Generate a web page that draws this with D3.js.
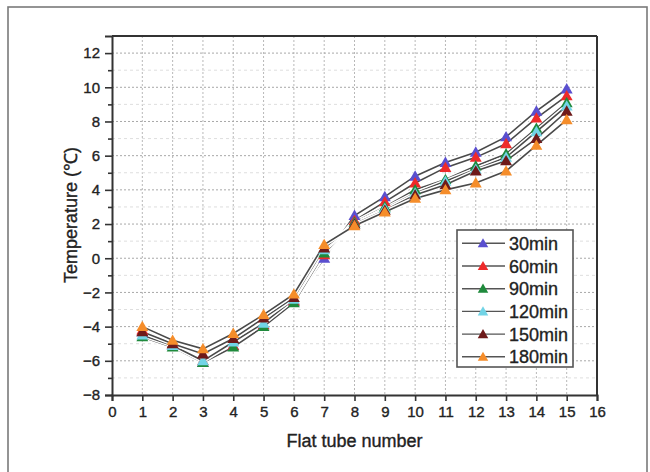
<!DOCTYPE html>
<html>
<head>
<meta charset="utf-8">
<script src="https://cdn.jsdelivr.net/npm/d3@7"></script>
<style>
  html, body { margin: 0; padding: 0; background: #fff; }
  svg { display: block; font-family: "Liberation Sans", Arial, sans-serif; }
  svg text { stroke: #222; stroke-width: 0.35px; }
</style>
</head>
<body>
<svg id="chart" width="650" height="472"></svg>
<script>
const tubes = [1, 2, 3, 4, 5, 6, 7, 8, 9, 10, 11, 12, 13, 14, 15];
const seriesNames = ["30min", "60min", "90min", "120min", "150min", "180min"];
const s30  = [-4.3, -5.1, -6.1, -5.1, -3.9, -2.5, 0.0, 2.5, 3.6, 4.8, 5.6, 6.2, 7.1, 8.6, 9.9];
const s60  = [-4.2, -5.0, -6.0, -5.1, -3.9, -2.5, 0.2, 2.2, 3.3, 4.4, 5.3, 5.9, 6.7, 8.2, 9.5];
const s90  = [-4.6, -5.2, -6.1, -5.2, -4.0, -2.6, 0.3, 2.1, 3.0, 4.0, 4.6, 5.4, 6.1, 7.6, 9.1];
const s120 = [-4.5, -5.1, -6.0, -4.9, -3.8, -2.4, 0.5, 2.0, 2.9, 3.8, 4.5, 5.2, 5.9, 7.4, 8.9];
const s150 = [-4.3, -5.0, -5.6, -4.7, -3.5, -2.3, 0.6, 2.0, 2.8, 3.7, 4.3, 5.1, 5.7, 7.0, 8.6];
const s180 = [-4.0, -4.8, -5.3, -4.4, -3.3, -2.1, 0.8, 1.9, 2.7, 3.5, 4.0, 4.4, 5.1, 6.6, 8.1];
const seriesValues = [s30, s60, s90, s120, s150, s180];
const seriesColors = ["#5a4fcf", "#ee2a2a", "#1f8a3c", "#72d4e6", "#6e1a1a", "#f58d2a"];
const xTicks = d3.range(0, 17, 1);
const yTicks = [-8, -6, -4, -2, 0, 2, 4, 6, 8, 10, 12];
const yMinorTicks = d3.range(-7, 13, 2);
const xLabel = "Flat tube number";
const yLabel = "Temperature (℃)";

const svg = d3.select("#chart");
const L = 112, R = 597, T = 36, B = 395;

// outer frame
svg.append("rect").attr("x", 8).attr("y", 7).attr("width", 639).attr("height", 480)
  .attr("fill", "#fff").attr("stroke", "#7a7a7a").attr("stroke-width", 1.6);

const x = d3.scaleLinear().domain([0, 16]).range([L, R]);
const y = d3.scaleLinear().domain([-8, 13]).range([B, T]);

// grid
const grid = svg.append("g");
grid.selectAll("line.vx").data(tubes).enter().append("line")
  .attr("x1", d => x(d)).attr("x2", d => x(d)).attr("y1", T).attr("y2", B)
  .attr("stroke", "#b8b8b8").attr("stroke-width", 1).attr("stroke-dasharray", "2,2");
grid.selectAll("line.hy").data(yTicks.filter(d => d > -8)).enter().append("line")
  .attr("x1", L).attr("x2", R).attr("y1", d => y(d)).attr("y2", d => y(d))
  .attr("stroke", "#a8a8a8").attr("stroke-width", 1).attr("stroke-dasharray", "2,2");
grid.selectAll("line.hm").data(yMinorTicks).enter().append("line")
  .attr("x1", L).attr("x2", R).attr("y1", d => y(d)).attr("y2", d => y(d))
  .attr("stroke", "#dedede").attr("stroke-width", 1).attr("stroke-dasharray", "3,3");

// plot box top/right
svg.append("line").attr("x1", L).attr("x2", R).attr("y1", T).attr("y2", T)
  .attr("stroke", "#333").attr("stroke-width", 2);
svg.append("line").attr("x1", R).attr("x2", R).attr("y1", T).attr("y2", B)
  .attr("stroke", "#333").attr("stroke-width", 2);

// axes
const xAxis = svg.append("g").attr("transform", `translate(0,${B})`)
  .call(d3.axisBottom(x).tickValues(xTicks).tickSize(6).tickPadding(5).tickFormat(d3.format("d")));
const yAxis = svg.append("g").attr("transform", `translate(${L},0)`)
  .call(d3.axisLeft(y).tickValues(yTicks).tickSize(7).tickPadding(5).tickFormat(d3.format("d")));
const yMinor = svg.append("g").attr("transform", `translate(${L},0)`)
  .call(d3.axisLeft(y).tickValues(yMinorTicks).tickSize(4).tickFormat(""));
yMinor.select(".domain").remove();
[xAxis, yAxis, yMinor].forEach(g => {
  g.select(".domain").attr("stroke", "#333").attr("stroke-width", 2);
  g.selectAll(".tick line").attr("stroke", "#333").attr("stroke-width", 1.6);
  g.selectAll(".tick text").attr("fill", "#222").attr("font-size", 15)
    .attr("font-family", "'Liberation Sans', Arial, sans-serif");
});

// axis titles
svg.append("text").attr("x", (L + R) / 2).attr("y", 447).attr("text-anchor", "middle")
  .attr("font-size", 18).attr("fill", "#222").text(xLabel);
svg.append("text").attr("transform", `translate(77,${215}) rotate(-90)`)
  .attr("text-anchor", "middle").attr("font-size", 18).attr("fill", "#222").text(yLabel);

// series
const line = d3.line().x((d, i) => x(tubes[i])).y(d => y(d));
const tri = d3.symbol().type(d3.symbolTriangle).size(62);
const triLg = d3.symbol().type(d3.symbolTriangle).size(48);
const plot = svg.append("g");
seriesValues.forEach((vals, si) => {
  plot.append("path").attr("d", line(vals)).attr("fill", "none")
    .attr("stroke", "#fff").attr("stroke-width", 4.5);
  plot.append("path").attr("d", line(vals)).attr("fill", "none")
    .attr("stroke", "#4a4a4a").attr("stroke-width", 1.6);
});
seriesValues.forEach((vals, si) => {
  plot.selectAll(null).data(vals).enter().append("path")
    .attr("d", tri)
    .attr("transform", (d, i) => `translate(${x(tubes[i])},${y(d) + 1})`)
    .attr("fill", seriesColors[si]);
});

// legend
const lg = svg.append("g");
lg.append("rect").attr("x", 457).attr("y", 230).attr("width", 116).attr("height", 137)
  .attr("fill", "#fff").attr("stroke", "#555").attr("stroke-width", 1.6);
seriesNames.forEach((name, i) => {
  const cy = 243.3 + i * 22.7;
  lg.append("line").attr("x1", 462).attr("x2", 505).attr("y1", cy).attr("y2", cy)
    .attr("stroke", "#555").attr("stroke-width", 1.4);
  lg.append("path").attr("d", triLg).attr("transform", `translate(483,${cy + 1})`)
    .attr("fill", seriesColors[i]);
  lg.append("text").attr("x", 509).attr("y", cy + 6.5).attr("font-size", 18)
    .attr("fill", "#222").text(name);
});
</script>
</body>
</html>
